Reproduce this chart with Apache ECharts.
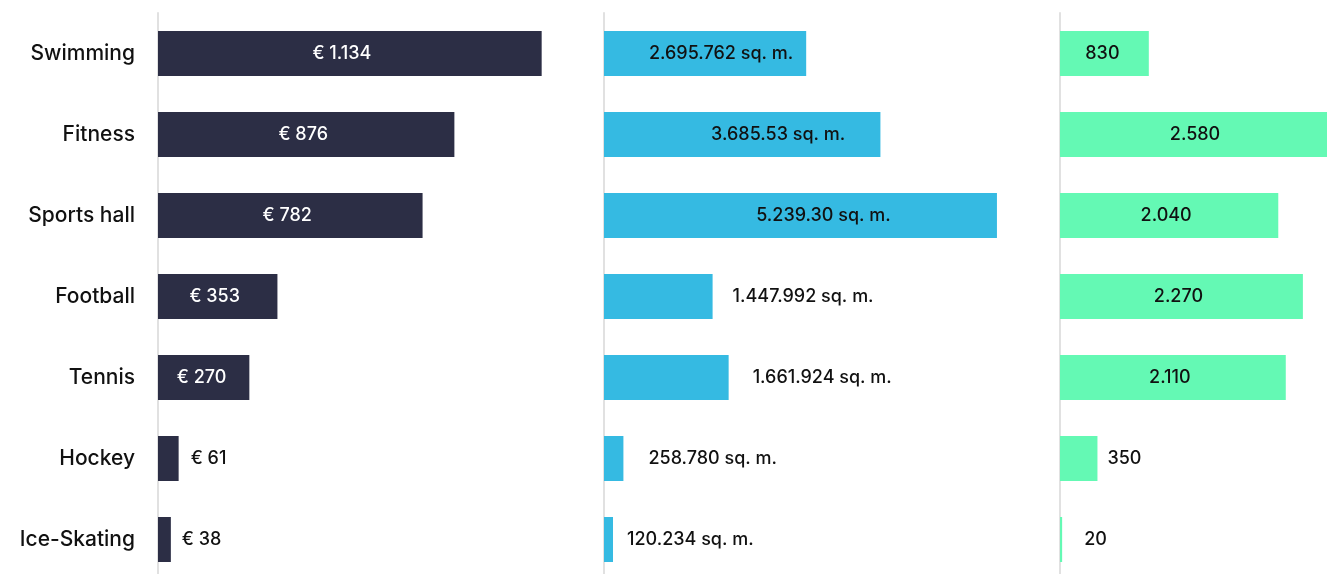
<!DOCTYPE html>
<html>
<head>
<meta charset="utf-8">
<script src="https://cdn.jsdelivr.net/npm/echarts@6/dist/echarts.min.js"></script>
<style>
  html, body { margin: 0; padding: 0; background: #ffffff; overflow: hidden; }
  /* canvas is a bit larger than the page so the last panel can run past the edge */
  #chart { width: 1400px; height: 620px; }
</style>
</head>
<body>
<div id="chart"></div>
<script>
// Sports facilities: average cost, total floor area and number of venues
const categories = ['Swimming', 'Fitness', 'Sports hall', 'Football', 'Tennis', 'Hockey', 'Ice-Skating'];
const costEuro = [1134, 876, 782, 353, 270, 61, 38];
const areaSqm = [2695762, 3685530, 5239300, 1447992, 1661924, 258780, 120234];
const areaText = ['2.695.762', '3.685.53', '5.239.30', '1.447.992', '1.661.924', '258.780', '120.234'];
const venues = [830, 2580, 2040, 2270, 2110, 350, 20];

const FONT = 'Inter, "Noto Sans", sans-serif';
const NAVY = '#2c2e45';
const BLUE = '#35bae2';
const MINT = '#64f9b4';

// thousands with a dot separator
function dotted(n) {
  return String(n).replace(/\B(?=(\d{3})+(?!\d))/g, '.');
}

// label placement: inside (centred, nudged) or to the right of the bar
function buildData(values, texts, insideFrom, insideShift, outsideGap, textColor) {
  return values.map(function (v, i) {
    const inside = v >= insideFrom;
    return {
      value: v,
      label: inside
        ? { position: 'inside', offset: [insideShift[i] || 0, 0], color: textColor, formatter: texts[i] }
        : { position: 'right', distance: outsideGap[i] || 10, color: '#111111', formatter: texts[i] }
    };
  });
}

const costLabels = costEuro.map(function (v) { return '€ ' + dotted(v); });
const areaLabels = areaText.map(function (t) { return t + ' sq. m.'; });
const venueLabels = venues.map(dotted);

const GRID_TOP = 13;
const GRID_H = 567;

const baseY = {
  type: 'category',
  data: categories,
  inverse: true,
  axisTick: { show: false },
  axisLine: { show: true, lineStyle: { color: '#e1e1e1', width: 2 } },
  splitLine: { show: false }
};

const hiddenX = {
  type: 'value',
  min: 0,
  axisLine: { show: false },
  axisTick: { show: false },
  axisLabel: { show: false },
  splitLine: { show: false }
};

const labelBase = {
  show: true,
  fontFamily: FONT,
  fontSize: 18,
  fontWeight: 500
};

const option = {
  animation: false,
  backgroundColor: '#ffffff',
  textStyle: { fontFamily: FONT },
  grid: [
    { left: 158, top: GRID_TOP, width: 406, height: GRID_H },
    { left: 604, top: GRID_TOP, width: 405, height: GRID_H },
    { left: 1060, top: GRID_TOP, width: 321, height: GRID_H }
  ],
  xAxis: [
    Object.assign({}, hiddenX, { gridIndex: 0, max: 1200 }),
    Object.assign({}, hiddenX, { gridIndex: 1, max: 5400000 }),
    Object.assign({}, hiddenX, { gridIndex: 2, max: 3000 })
  ],
  yAxis: [
    Object.assign({}, baseY, {
      gridIndex: 0,
      axisLabel: { show: true, margin: 23, color: '#111111', fontFamily: FONT, fontSize: 21, fontWeight: 500 }
    }),
    Object.assign({}, baseY, { gridIndex: 1, axisLabel: { show: false } }),
    Object.assign({}, baseY, { gridIndex: 2, axisLabel: { show: false } })
  ],
  series: [
    {
      type: 'bar',
      xAxisIndex: 0, yAxisIndex: 0,
      barWidth: 45,
      itemStyle: { color: NAVY },
      label: labelBase,
      data: buildData(costEuro, costLabels, 200, [-8, -3, -3, -3, -2], [12, 11, 11, 11, 11, 12, 11], '#ffffff')
    },
    {
      type: 'bar',
      xAxisIndex: 1, yAxisIndex: 1,
      barWidth: 45,
      itemStyle: { color: BLUE },
      label: labelBase,
      data: buildData(areaSqm, areaLabels, 2000000, [16, 36, 23], [0, 0, 0, 20, 24, 25, 14], '#111111')
    },
    {
      type: 'bar',
      xAxisIndex: 2, yAxisIndex: 2,
      barWidth: 45,
      itemStyle: { color: MINT },
      label: labelBase,
      data: buildData(venues, venueLabels, 800, [-2, -3, -3, -3, -3], [0, 0, 0, 0, 0, 10, 22], '#111111')
    }
  ]
};

const chart = echarts.init(document.getElementById('chart'), null, { renderer: 'canvas' });
chart.setOption(option);
</script>
</body>
</html>
